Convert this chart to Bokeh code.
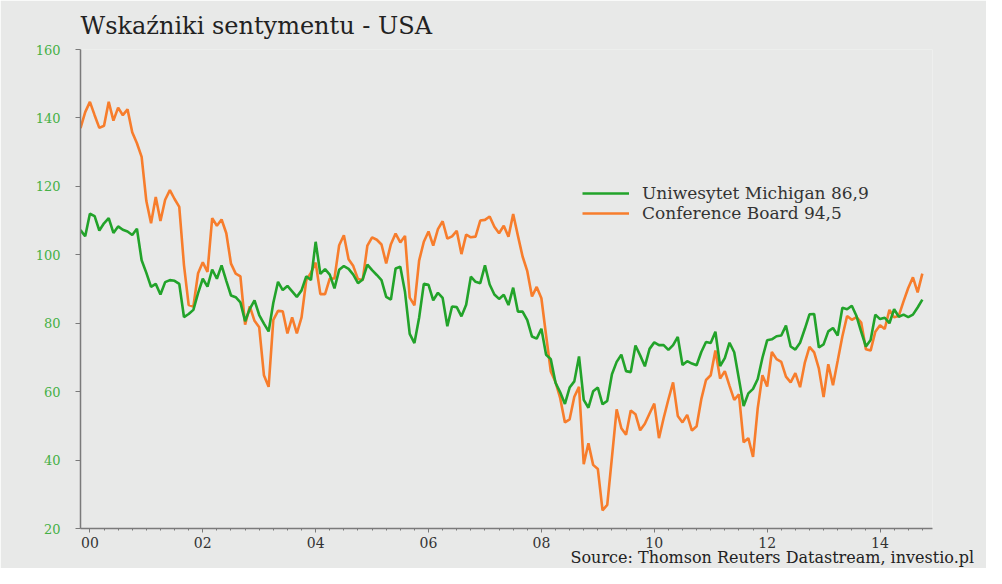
import numpy as np
from bokeh.plotting import figure
from bokeh.models import FixedTicker, Legend, LegendItem, Title, Range1d, ColumnDataSource
from bokeh.embed import file_html
from bokeh.resources import INLINE

# Monthly data, Nov 1999 .. Oct 2014
start_year = 1999
start_month = 11

michigan = [
    107.2, 105.4,
    112.0, 111.3, 107.1, 109.2, 110.7, 106.4, 108.3, 107.3, 106.8, 105.8, 107.6, 98.4,
    94.7, 90.6, 91.5, 88.4, 92.0, 92.6, 92.4, 91.5, 81.8, 82.7, 83.9, 88.8,
    93.0, 90.7, 95.7, 93.0, 96.9, 92.4, 88.1, 87.6, 86.1, 80.6, 84.2, 86.7,
    82.4, 79.9, 77.6, 86.0, 92.1, 89.7, 90.9, 89.3, 87.7, 89.6, 93.7, 92.6,
    103.8, 94.4, 95.8, 94.2, 90.2, 95.6, 96.7, 95.9, 94.2, 91.7, 92.8, 97.1,
    95.5, 94.1, 92.6, 87.7, 86.9, 96.0, 96.5, 89.1, 76.9, 74.2, 81.6, 91.5,
    91.2, 86.7, 88.9, 87.4, 79.1, 84.9, 84.7, 82.0, 85.4, 93.6, 92.1, 91.7,
    96.9, 91.3, 88.4, 87.1, 88.3, 85.3, 90.4, 83.4, 83.4, 80.9, 76.1, 75.5,
    78.4, 70.8, 69.5, 62.6, 59.8, 56.4, 61.2, 63.0, 70.3, 57.6, 55.3, 60.1,
    61.2, 56.3, 57.3, 65.1, 68.7, 70.8, 66.0, 65.7, 73.5, 70.6, 67.4, 72.5,
    74.4, 73.6, 73.6, 72.2, 73.6, 76.0, 67.8, 68.9, 68.2, 67.7, 71.6, 74.5,
    74.2, 77.5, 67.5, 69.8, 74.3, 71.5, 63.7, 55.8, 59.5, 60.8, 63.7, 69.9,
    75.0, 75.3, 76.2, 76.4, 79.3, 73.2, 72.3, 74.3, 78.3, 82.6, 82.7, 72.9,
    73.8, 77.6, 78.6, 76.4, 84.5, 84.1, 85.1, 82.1, 77.5, 73.2, 75.1, 82.5,
    81.2, 81.6, 80.0, 84.1, 81.9, 82.5, 81.8, 82.5, 84.6, 86.9,
]

conference = [
    137.0, 141.7,
    144.7, 140.8, 137.1, 137.7, 144.7, 139.2, 143.0, 140.8, 142.5, 135.8, 132.6, 128.6,
    115.7, 109.2, 116.9, 109.9, 116.1, 118.9, 116.3, 114.0, 97.0, 85.3, 84.9, 94.6,
    97.8, 95.0, 110.7, 108.5, 110.3, 106.3, 97.4, 94.5, 93.7, 79.6, 84.9, 80.7,
    78.8, 64.8, 61.4, 81.0, 83.6, 83.5, 77.0, 81.7, 77.0, 81.7, 92.5, 94.8,
    97.7, 88.5, 88.5, 93.0, 93.1, 102.8, 105.7, 98.7, 96.7, 92.9, 92.6, 102.7,
    105.1, 104.4, 103.0, 97.5, 103.1, 106.2, 103.6, 105.5, 87.5, 85.2, 98.3, 103.8,
    106.8, 102.7, 107.5, 109.8, 104.7, 105.4, 107.0, 100.2, 105.9, 105.1, 105.3, 110.0,
    110.2, 111.2, 108.2, 106.3, 108.5, 105.3, 111.9, 105.6, 99.5, 95.2, 87.8, 90.6,
    87.3, 76.4, 65.9, 62.8, 58.1, 51.0, 51.9, 58.5, 61.4, 38.8, 44.9, 38.6,
    37.4, 25.3, 26.9, 40.8, 54.8, 49.3, 47.4, 54.5, 53.4, 48.7, 50.6, 53.6,
    56.5, 46.4, 52.3, 57.7, 62.7, 52.9, 51.0, 53.2, 48.6, 49.9, 57.8, 63.4,
    64.8, 72.0, 63.8, 66.0, 61.7, 57.6, 59.2, 45.2, 46.4, 40.9, 55.2, 64.8,
    61.5, 71.6, 69.5, 68.7, 64.4, 62.7, 65.4, 61.3, 68.4, 73.1, 71.5, 66.7,
    58.4, 68.0, 61.9, 69.0, 76.2, 82.1, 81.0, 81.8, 80.2, 72.4, 72.0, 77.5,
    79.4, 78.3, 83.9, 81.7, 82.2, 86.4, 90.3, 93.4, 89.0, 94.5,
]

major_years = [2000, 2002, 2004, 2006, 2008, 2010, 2012, 2014]
major_labels = ["00", "02", "04", "06", "08", "10", "12", "14"]
y_ticks = [20, 40, 60, 80, 100, 120, 140, 160]

title_text = "Wskaźniki sentymentu - USA"
source_text = "Source: Thomson Reuters Datastream, investio.pl"
label_mich = "Uniwesytet Michigan 86,9"
label_conf = "Conference Board 94,5"

n = len(michigan)
x = [start_year + (start_month - 1) / 12 + i / 12 for i in range(n)]
src = ColumnDataSource(dict(x=x, mich=michigan, conf=conference))

BG = "#e8e9e8"
GREEN = "#22a32a"
ORANGE = "#f77d2c"
FONT = "DejaVu Serif"

p = figure(width=986, height=568, output_backend="svg", toolbar_location=None,
           x_range=Range1d(x[0], 2014.93), y_range=Range1d(20, 160),
           min_border_left=80, min_border_right=54, min_border_top=49, min_border_bottom=40)
p.background_fill_color = BG
p.border_fill_color = BG
p.outline_line_color = None
p.xgrid.visible = False
p.ygrid.visible = False

r_conf = p.line("x", "conf", source=src, line_color=ORANGE, line_width=2.6)
r_mich = p.line("x", "mich", source=src, line_color=GREEN, line_width=2.6)

# x axis
minor = [y + q / 4 for y in range(1999, 2015) for q in range(4)]
minor = [m for m in minor if x[0] <= m <= 2014.93 and m not in major_years]
p.xaxis.ticker = FixedTicker(ticks=major_years, minor_ticks=minor)
p.xaxis.major_label_overrides = {yv: lab for yv, lab in zip(major_years, major_labels)}
p.xaxis.axis_line_color = "#7a7a7a"
p.xaxis.axis_line_width = 1.5
p.xaxis.major_tick_line_color = "#7a7a7a"
p.xaxis.minor_tick_line_color = "#7a7a7a"
p.xaxis.major_tick_out = 4
p.xaxis.major_tick_in = 0
p.xaxis.minor_tick_out = 2
p.xaxis.minor_tick_in = 0
p.xaxis.major_label_text_font = FONT
p.xaxis.major_label_text_font_size = "14px"
p.xaxis.major_label_text_color = "#333333"
p.xaxis.major_label_standoff = 4

# y axis
p.yaxis.ticker = FixedTicker(ticks=y_ticks, minor_ticks=[])
p.yaxis.axis_line_color = "#7a7a7a"
p.yaxis.axis_line_width = 1.5
p.yaxis.major_tick_line_color = "#7a7a7a"
p.yaxis.major_tick_out = 5
p.yaxis.major_tick_in = 0
p.yaxis.minor_tick_out = 0
p.yaxis.minor_tick_in = 0
p.yaxis.major_label_text_font = FONT
p.yaxis.major_label_text_font_size = "13px"
p.yaxis.major_label_text_color = "#45b045"
p.yaxis.major_label_standoff = 15

legend = Legend(items=[LegendItem(label=label_mich, renderers=[r_mich]),
                       LegendItem(label=label_conf, renderers=[r_conf])],
                location=(502, 305))
legend.background_fill_alpha = 0
legend.border_line_color = None
legend.label_text_font = FONT
legend.label_text_font_size = "17px"
legend.label_text_color = "#333333"
legend.glyph_width = 47
legend.glyph_height = 18
legend.label_height = 18
legend.label_standoff = 13
legend.padding = 0
legend.margin = 0
legend.spacing = -2
p.add_layout(legend)

p.title.text = title_text
p.title.text_font = FONT
p.title.text_font_size = "24px"
p.title.text_font_style = "normal"
p.title.text_color = "#222222"
p.title.align = "left"
p.title.offset = 0
p.title.standoff = 19

source = Title(text=source_text, align="left", offset=490, standoff=-5,
               vertical_align="top",
               text_font=FONT, text_font_size="16px", text_font_style="normal",
               text_color="#222222")
p.add_layout(source, "below")

open("out.html", "w").write(file_html(p, INLINE))
